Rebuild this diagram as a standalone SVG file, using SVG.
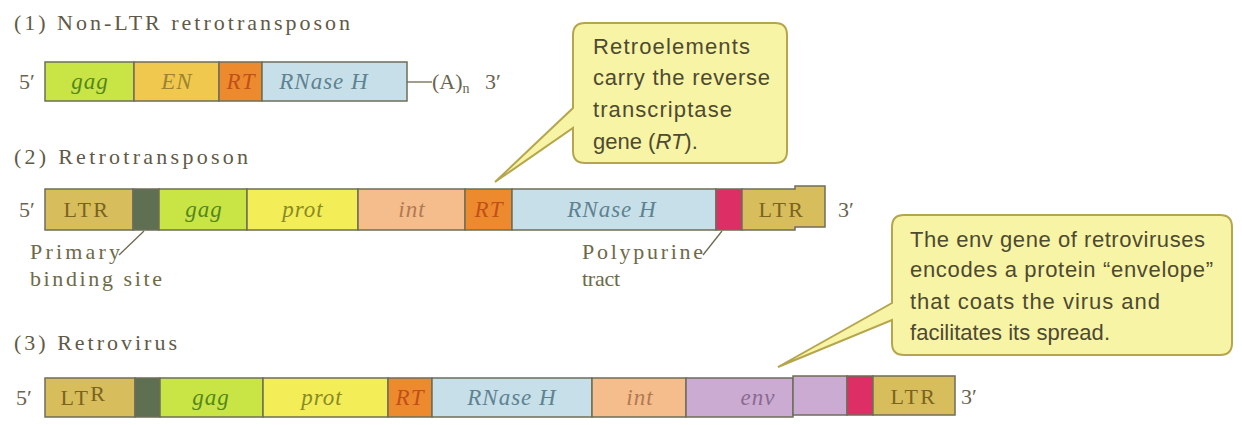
<svg xmlns="http://www.w3.org/2000/svg" width="1242" height="425" viewBox="0 0 1242 425">
  <style>
    .title { font-family: "Liberation Serif", serif; font-size: 22px; fill: #5f5a48; }
    .end { font-family: "Liberation Serif", serif; font-size: 22px; fill: #6a6450; }
    .note { font-family: "Liberation Serif", serif; font-size: 22px; fill: #6d6a48; }
    .gene { font-family: "Liberation Serif", serif; font-size: 23px; font-style: italic; letter-spacing: 1px; text-anchor: middle; }
    .ltr { font-family: "Liberation Serif", serif; font-size: 22px; letter-spacing: 2.5px; text-anchor: middle; fill: #7a6420; }
    .seg { stroke: #6e6e58; stroke-width: 1.5; }
    .gag { fill: #c8e545; } .gagT { fill: #55851c; }
    .en { fill: #f0c84e; } .enT { fill: #9c8430; }
    .rt { fill: #ee8a2e; } .rtT { fill: #c0501a; }
    .rnh { fill: #c7dfe8; } .rnhT { fill: #5e8290; }
    .ltrF { fill: #d8bd5c; }
    .pbs { fill: #5f6f52; }
    .prot { fill: #f3ee58; } .protT { fill: #8a8a24; }
    .int { fill: #f5bc8c; } .intT { fill: #b07a50; }
    .ppt { fill: #dd2e66; }
    .env { fill: #cbabd2; } .envT { fill: #8a6a90; }
    .lead { stroke: #6e6a50; stroke-width: 1.3; fill: none; }
    .callout { fill: #f7f4a6; stroke: #b5a64e; stroke-width: 2; }
    .ctext { font-family: "Liberation Sans", sans-serif; font-size: 22px; fill: #4e4a30; }
  </style>

  <rect width="1242" height="425" fill="#ffffff"/>

  <!-- (1) Non-LTR retrotransposon -->
  <g id="row1">
    <text class="title" x="14" y="30" textLength="336" lengthAdjust="spacing">(1) Non-LTR retrotransposon</text>
    <text class="end" x="19" y="89">5′</text>
    <rect class="seg gag" x="45" y="62" width="89" height="39"/>
    <rect class="seg en" x="134" y="62" width="85" height="39"/>
    <rect class="seg rt" x="219" y="62" width="43" height="39"/>
    <rect class="seg rnh" x="262" y="62" width="145" height="39"/>
    <text class="gene gagT" x="90" y="89">gag</text>
    <text class="gene enT" x="177" y="89">EN</text>
    <text class="gene rtT" x="241" y="89">RT</text>
    <text class="gene rnhT" x="324" y="89">RNase H</text>
    <text class="end" x="432" y="89">(A)<tspan font-size="14" dy="4">n</tspan><tspan dy="-4" x="485">3′</tspan></text>
  </g>

  <!-- (2) Retrotransposon -->
  <g id="row2">
    <text class="title" x="14" y="164" textLength="234" lengthAdjust="spacing">(2) Retrotransposon</text>
    <text class="end" x="19" y="217">5′</text>
    <rect class="seg ltrF" x="45" y="189" width="88" height="41"/>
    <rect class="seg pbs" x="133" y="189" width="26" height="41"/>
    <rect class="seg gag" x="159" y="189" width="88" height="41"/>
    <rect class="seg prot" x="247" y="189" width="111" height="41"/>
    <rect class="seg int" x="358" y="189" width="107" height="41"/>
    <rect class="seg rt" x="465" y="189" width="47" height="41"/>
    <rect class="seg rnh" x="512" y="189" width="204" height="41"/>
    <rect class="seg ppt" x="716" y="189" width="26" height="41"/>
    <path class="seg ltrF" d="M742,189 H795 V186 H825 V227 H795 V230 H742 Z"/>
    <text class="ltr" x="87" y="217">LTR</text>
    <text class="gene gagT" x="204" y="217">gag</text>
    <text class="gene protT" x="303" y="217">prot</text>
    <text class="gene intT" x="412" y="217">int</text>
    <text class="gene rtT" x="489" y="217">RT</text>
    <text class="gene rnhT" x="612" y="217">RNase H</text>
    <text class="ltr" x="782" y="217">LTR</text>
    <text class="end" x="838" y="217">3′</text>
    <text class="note" x="30" y="259" textLength="90" lengthAdjust="spacing">Primary</text>
    <text class="note" x="30" y="286" textLength="132" lengthAdjust="spacing">binding site</text>
    <text class="note" x="582" y="259" textLength="121" lengthAdjust="spacing">Polypurine</text>
    <text class="note" x="582" y="286" textLength="38" lengthAdjust="spacing">tract</text>
  </g>

  <!-- (3) Retrovirus -->
  <g id="row3">
    <text class="title" x="14" y="350" textLength="163" lengthAdjust="spacing">(3) Retrovirus</text>
    <text class="end" x="16" y="405">5′</text>
    <rect class="seg ltrF" x="45" y="378" width="90" height="39"/>
    <rect class="seg pbs" x="135" y="378" width="25" height="39"/>
    <rect class="seg gag" x="160" y="378" width="103" height="39"/>
    <rect class="seg prot" x="263" y="378" width="125" height="39"/>
    <rect class="seg rt" x="388" y="378" width="44" height="39"/>
    <rect class="seg rnh" x="432" y="378" width="160" height="39"/>
    <rect class="seg int" x="592" y="378" width="94" height="39"/>
    <rect class="seg env" x="686" y="378" width="107" height="39"/>
    <rect class="seg env" x="793" y="376" width="54" height="39"/>
    <rect class="seg ppt" x="847" y="376" width="26" height="39"/>
    <rect class="seg ltrF" x="873" y="376" width="82" height="39"/>
    <text class="ltr" x="84" y="405">LT<tspan dy="-4">R</tspan></text>
    <text class="gene gagT" x="211" y="405">gag</text>
    <text class="gene protT" x="322" y="405">prot</text>
    <text class="gene rtT" x="410" y="405">RT</text>
    <text class="gene rnhT" x="512" y="405">RNase H</text>
    <text class="gene intT" x="640" y="405">int</text>
    <text class="gene envT" x="758" y="405">env</text>
    <text class="ltr" x="914" y="404">LTR</text>
    <text class="end" x="961" y="404">3′</text>
  </g>

  <!-- Callout: reverse transcriptase -->
  <g id="callout-rt">
    <path class="callout" d="M585,23 H775 Q787,23 787,35 V151 Q787,163 775,163 H585 Q573,163 573,151 V128 L495,182 L573,108 V35 Q573,23 585,23 Z"/>
    <text class="ctext" x="593" y="54" textLength="157" lengthAdjust="spacing">Retroelements</text>
    <text class="ctext" x="593" y="85" textLength="177" lengthAdjust="spacing">carry the reverse</text>
    <text class="ctext" x="593" y="117" textLength="139" lengthAdjust="spacing">transcriptase</text>
    <text class="ctext" x="593" y="149">gene (<tspan font-style="italic">RT</tspan>).</text>
  </g>

  <!-- Callout: env gene -->
  <g id="callout-env">
    <path class="callout" d="M904,215 H1220 Q1232,215 1232,227 V343 Q1232,355 1220,355 H904 Q892,355 892,343 V320 L778,367 L892,303 V227 Q892,215 904,215 Z"/>
    <text class="ctext" x="910" y="247" textLength="295" lengthAdjust="spacing">The env gene of retroviruses</text>
    <text class="ctext" x="910" y="277" textLength="303" lengthAdjust="spacing">encodes a protein “envelope”</text>
    <text class="ctext" x="910" y="309" textLength="250" lengthAdjust="spacing">that coats the virus and</text>
    <text class="ctext" x="910" y="340" textLength="200" lengthAdjust="spacing">facilitates its spread.</text>
  </g>

  <!-- Connectors: poly(A) tail and label leaders -->
  <g id="connectors">
    <line class="lead" x1="407" y1="82" x2="432" y2="82"/>
    <line class="lead" x1="119" y1="255" x2="144" y2="231"/>
    <line class="lead" x1="703" y1="255" x2="722" y2="231"/>
  </g>
</svg>
